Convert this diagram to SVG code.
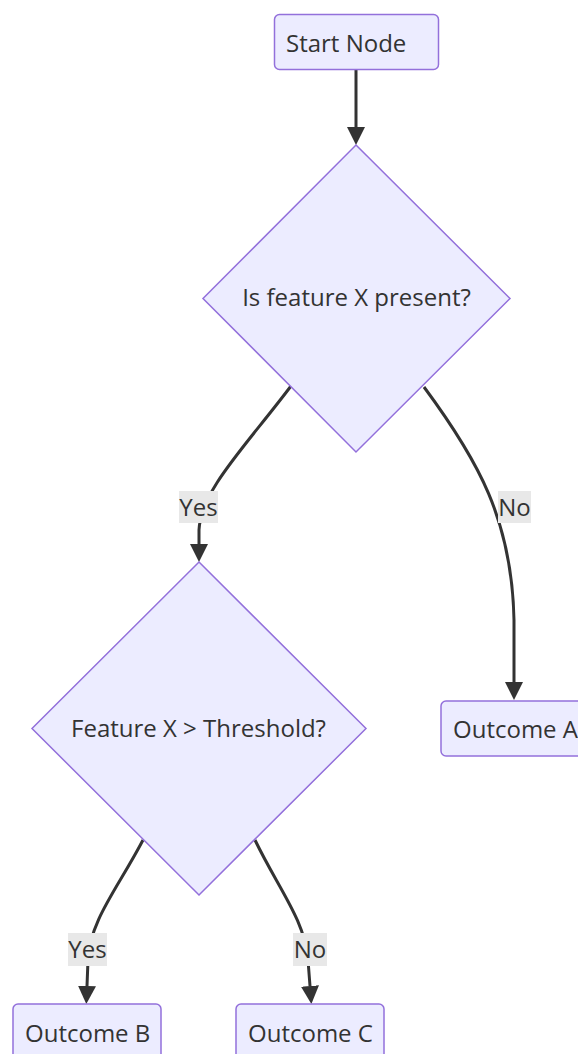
<svg xmlns="http://www.w3.org/2000/svg" width="578" height="1054" viewBox="0 0 578 1054">
  <style>
    .node { fill: #ECECFF; stroke: #9370DB; stroke-width: 1.5; }
    .label { font-family: "Open Sans", "Liberation Sans", sans-serif; font-size: 24px; fill: #333333; }
    .edge { fill: none; stroke: #333333; stroke-width: 3; }
    .elbg { fill: #E8E8E8; }
  </style>
  <defs>
    <marker id="arrow" viewBox="0 0 10 10" refX="0" refY="5" markerWidth="18" markerHeight="18" markerUnits="userSpaceOnUse" orient="auto">
      <path d="M0,0 L10,5 L0,10 z" fill="#333333"/>
    </marker>
  </defs>
  <rect width="578" height="1054" fill="#FFFFFF"/>

  <g id="edges">
    <path class="edge" d="M356,69 L356,127" marker-end="url(#arrow)"/>
    <path class="edge" d="M291,386 C245,447 201,490 199,530 L199,544" marker-end="url(#arrow)"/>
    <path class="edge" d="M424,387 C478,460 512,520 514,620 L514,682" marker-end="url(#arrow)"/>
    <path class="edge" d="M143,840 C118,888 90,920 88,960 L87,986" marker-end="url(#arrow)"/>
    <path class="edge" d="M255,840 C278,888 305,920 308,960 L310,986" marker-end="url(#arrow)"/>
  </g>

  <g id="edge-labels">
    <g id="label-d1-yes">
      <rect class="elbg" x="179" y="491" width="39" height="32"/>
      <text class="label" x="198.5" y="516" text-anchor="middle">Yes</text>
    </g>
    <g id="label-d1-no">
      <rect class="elbg" x="498" y="491" width="33" height="32"/>
      <text class="label" x="514.5" y="516" text-anchor="middle">No</text>
    </g>
    <g id="label-d2-yes">
      <rect class="elbg" x="68" y="933" width="39" height="33"/>
      <text class="label" x="87.5" y="958" text-anchor="middle">Yes</text>
    </g>
    <g id="label-d2-no">
      <rect class="elbg" x="293" y="933" width="34" height="33"/>
      <text class="label" x="310" y="958" text-anchor="middle">No</text>
    </g>
  </g>

  <g id="start">
    <rect class="node" x="274.5" y="14.5" width="164" height="55" rx="5" ry="5"/>
    <text class="label" x="286" y="52">Start Node</text>
  </g>

  <g id="decision-present">
    <polygon class="node" points="356,145 510,298.5 356,452 203,298.5"/>
    <text class="label" x="356.5" y="306" text-anchor="middle">Is feature X present?</text>
  </g>

  <g id="decision-threshold">
    <polygon class="node" points="199,562 366,728.5 199,895 32,728.5"/>
    <text class="label" x="198.5" y="737" text-anchor="middle">Feature X &gt; Threshold?</text>
  </g>

  <g id="outcome-a">
    <rect class="node" x="441" y="701" width="148" height="55" rx="5" ry="5"/>
    <text class="label" x="453" y="738">Outcome A</text>
  </g>

  <g id="outcome-b">
    <rect class="node" x="13" y="1004" width="148" height="55" rx="5" ry="5"/>
    <text class="label" x="25" y="1042">Outcome B</text>
  </g>

  <g id="outcome-c">
    <rect class="node" x="236" y="1004" width="148" height="55" rx="5" ry="5"/>
    <text class="label" x="248" y="1042">Outcome C</text>
  </g>
</svg>
